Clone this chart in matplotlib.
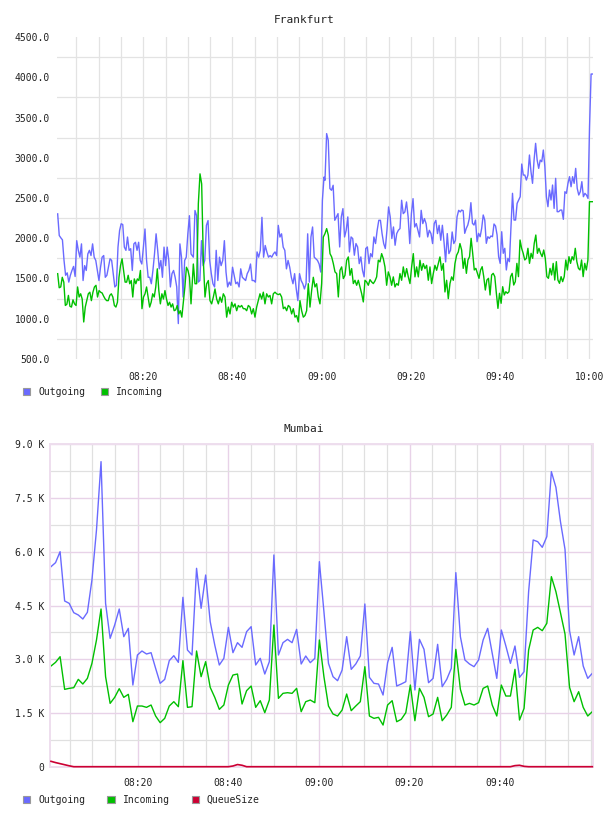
import numpy as np
import matplotlib
matplotlib.use("Agg")
import matplotlib.pyplot as plt
from matplotlib.patches import Patch
from matplotlib.ticker import MultipleLocator, FixedLocator, FuncFormatter

plt.rcParams['font.family'] = ['DejaVu Sans Mono']
plt.rcParams['font.size'] = 7

# ---- Frankfurt (minutes after 08:00, read in 4 chunks) ----
fra_out_spans = [(0.80, 30.70), (31.22, 60.52), (60.74, 91.08), (91.38, 120.75)]
fra_in_spans = [(0.80, 30.70), (31.22, 60.36), (60.74, 91.00), (91.38, 120.75)]

fra_out_a = [2303, 2034, 2005, 1980, 1725, 1540, 1570, 1455, 1540, 1600,
             1650, 1525, 1970, 1850, 1765, 1930, 1475, 1660, 1600, 1805,
             1850, 1785, 1930, 1765, 1725, 1600, 1475, 1640, 1765, 1785,
             1515, 1540, 1640, 1745, 1725, 1560, 1395, 1415, 1890, 2095,
             2180, 2170, 1890, 1850, 2015, 1850, 1870, 1600, 1930, 1950,
             1850, 1950, 1725, 1680, 1890, 2115, 1725, 1515, 1515, 1435,
             1600, 1805, 2055, 1850, 1620, 1725, 1515, 1890, 1660, 1890,
             1725, 1395, 1560, 1600, 1515, 1395, 940, 1930, 1765, 1270,
             1725, 1765, 2055, 2280, 1805]
fra_out_b = [1765, 2345, 2280, 1455, 1475, 1970, 1660, 1725, 2160, 2220,
             1725, 1560, 1435, 1395, 1850, 1475, 1765, 1660, 1725, 1970,
             1580, 1395, 1455, 1415, 1640, 1540, 1435, 1455, 1395, 1620,
             1515, 1495, 1475, 1560, 1600, 1680, 1475, 1475, 1455, 1830,
             1765, 1850, 2260, 1765, 1910, 1830, 1765, 1785, 1765, 1805,
             1830, 1785, 2160, 2015, 2055, 1890, 1850, 1620, 1725, 1640,
             1515, 1435, 1560, 1370, 1225, 1560, 1475, 1435, 1370, 1435,
             2055, 1455, 2015, 2140, 1765, 1745, 1725, 1680, 1580, 2470,
             2760]
fra_out_c = [2720, 3300, 3217, 2617, 2596, 2658, 2223, 2265, 2306, 1892,
             2265, 2368, 2016, 2099, 2265, 1830, 2016, 1996, 1789, 1934,
             1892, 1685, 1768, 1602, 1520, 1872, 1892, 1685, 1809, 1768,
             2016, 1934, 2099, 2223, 2223, 2058, 1934, 1872, 2099, 2389,
             2265, 1996, 2140, 1913, 2058, 2099, 2120, 2472, 2306, 2327,
             2451, 2265, 1934, 2306, 2492, 2140, 2182, 2099, 2016, 2347,
             2182, 2244, 2182, 2016, 2099, 2058, 1934, 2182, 2223, 2058,
             2161, 1975, 2161, 1954, 1706, 2058, 1809, 1851, 2078, 1934,
             1975, 2265, 2347, 2327]
fra_out_d = [2350, 2342, 2061, 2123, 2164, 2247, 2442, 2185, 2164, 2226,
             1957, 2061, 2019, 2123, 2289, 2226, 1937, 2019, 1999, 2028,
             2019, 2177, 2152, 2040, 1771, 1688, 2081, 1813, 1875, 1606,
             1750, 1709, 2123, 2558, 2226, 2226, 2433, 2475, 2516, 2922,
             2785, 2785, 2723, 2785, 3034, 2827, 2682, 2971, 3179, 2971,
             2868, 2971, 2951, 3096, 2889, 2516, 2392, 2599, 2475, 2661,
             2371, 2744, 2330, 2330, 2350, 2350, 2235, 2578, 2558, 2682,
             2765, 2640, 2765, 2682, 2868, 2620, 2537, 2578, 2703, 2516,
             2558, 2537, 2495, 3386, 4040, 4040]

fra_in_a = [1560, 1385, 1395, 1515, 1455, 1165, 1180, 1290, 1155, 1145,
            1235, 1185, 1165, 1395, 1270, 1310, 1245, 960, 1145, 1225,
            1310, 1330, 1225, 1330, 1395, 1415, 1270, 1350, 1330, 1320,
            1280, 1245, 1225, 1225, 1290, 1310, 1270, 1165, 1145, 1205,
            1515, 1660, 1745, 1600, 1455, 1455, 1540, 1435, 1475, 1270,
            1495, 1435, 1495, 1475, 1600, 1125, 1270, 1310, 1395, 1270,
            1145, 1205, 1310, 1270, 1395, 1620, 1350, 1185, 1310, 1245,
            1350, 1245, 1165, 1205, 1145, 1185, 1100, 1110, 1165, 1060,
            1100, 1020, 1205, 1395, 1640, 1600, 1515, 1185]
fra_in_b = [1680, 1435, 1435, 2430, 2800, 2675, 1725, 1270, 1435, 1475,
            1225, 1185, 1270, 1370, 1245, 1185, 1270, 1205, 1310, 1270,
            1020, 1145, 1060, 1205, 1145, 1185, 1100, 1165, 1145, 1165,
            1125, 1125, 1100, 1165, 1145, 1060, 1125, 1020, 1145, 1225,
            1310, 1245, 1330, 1185, 1310, 1270, 1290, 1185, 1310, 1330,
            1310, 1300, 1310, 1270, 1125, 1145, 1100, 1165, 1145, 1060,
            1125, 1020, 1040, 960, 1225, 1100, 1020, 1040, 1100, 1435,
            1145, 1350, 1515, 1395, 1435, 1270, 1185, 1435, 2015]
fra_in_c = [2058, 2120, 2037, 1809, 1768, 1685, 1582, 1561, 1271, 1602,
            1644, 1499, 1540, 1727, 1768, 1540, 1623, 1437, 1478, 1416,
            1478, 1395, 1312, 1209, 1478, 1457, 1416, 1486, 1457, 1437,
            1470, 1520, 1727, 1706, 1809, 1747, 1644, 1416, 1582, 1520,
            1416, 1520, 1395, 1437, 1416, 1561, 1478, 1644, 1520, 1623,
            1520, 1437, 1644, 1809, 1520, 1644, 1520, 1727, 1602, 1685,
            1623, 1664, 1478, 1644, 1437, 1561, 1664, 1602, 1685, 1768,
            1602, 1685, 1333, 1478, 1250, 1437, 1520, 1478, 1685, 1789,
            1830, 1934]
fra_in_d = [1854, 1626, 1750, 1564, 1730, 1771, 1999, 1813, 1606, 1626,
            1564, 1502, 1606, 1647, 1523, 1357, 1481, 1502, 1295, 1544,
            1564, 1523, 1316, 1129, 1316, 1192, 1398, 1295, 1336, 1316,
            1336, 1523, 1564, 1419, 1461, 1688, 1523, 1978, 1875, 1813,
            1730, 1750, 1875, 1688, 1813, 1750, 1937, 2040, 1813, 1875,
            1813, 1771, 1854, 1750, 1523, 1502, 1626, 1544, 1688, 1481,
            1709, 1481, 1440, 1523, 1461, 1523, 1730, 1606, 1771, 1688,
            1771, 1730, 1875, 1709, 1626, 1606, 1730, 1523, 1688, 1606,
            1730, 2454, 2454, 2454]

# ---- Mumbai (one sample per minute) ----
mum_start, mum_end = 0.86, 120.35
mum_out = [5584, 5696, 6003, 4626, 4560, 4300, 4235, 4123, 4310, 5212,
           6608, 8516, 4560, 3583, 3955, 4402, 3630, 3862, 2280, 3118,
           3230, 3146, 3183, 2746, 2327, 2438, 2960, 3099, 2913, 4728,
           3257, 3118, 5538, 4421, 5351, 4049, 3397, 2839, 3025, 3890,
           3183, 3462, 3332, 3769, 3909, 2839, 3025, 2587, 2932, 5910,
           3118, 3462, 3555, 3462, 3834,
           2867, 3090, 2904, 3025, 5724, 4328, 2885, 2513, 2401, 2699,
           3630, 2718, 2867, 3090, 4542, 2494, 2327, 2308, 2001, 2904,
           3332, 2252, 2308, 2373, 3769, 2141, 3555, 3276, 2345, 2466,
           3416, 2234, 2438, 2746, 5417, 3630, 2978, 2867, 2792, 2978,
           3537, 3862, 3164, 2466, 3816, 3369, 2885, 3369, 2494, 2652,
           4886, 6329, 6282, 6124, 6422, 8237, 7799, 6840, 6068, 3797,
           3118, 3630, 2811, 2466, 2606]
mum_in = [2811, 2913, 3071, 2159, 2187, 2206, 2438, 2308, 2466, 2885,
          3537, 4402, 2513, 1768, 1936, 2178, 1936, 2020, 1256, 1694,
          1694, 1657, 1722, 1415, 1229, 1350, 1694, 1815, 1675, 2960,
          1657, 1675, 3230, 2513, 2932, 2215, 1936, 1601, 1722, 2280,
          2559, 2587, 1750, 2122, 2252, 1657, 1843, 1508, 1861, 3955,
          1908, 2048, 2066, 2048, 2187,
          1536, 1815, 1861, 1787, 3537, 2513, 1694, 1471, 1415, 1582,
          2029, 1564, 1694, 1815, 2792, 1415, 1350, 1378, 1163, 1722,
          1843, 1256, 1322, 1508, 2280, 1284, 2187, 1936, 1396, 1471,
          1936, 1284, 1443, 1657, 3276, 2159, 1722, 1768, 1722, 1787,
          2187, 2252, 1722, 1415, 2280, 1973, 1973, 2718, 1303, 1629,
          3257, 3816, 3890, 3797, 4002, 5305, 4886, 4300, 3704, 2215,
          1815, 2094, 1657, 1415, 1536]
mum_queue = [150, 115, 85, 55, 25, 0, 0, 0, 0, 0,
             0, 0, 0, 0, 0, 0, 0, 0, 0, 0,
             0, 0, 0, 0, 0, 0, 0, 0, 0, 0,
             0, 0, 0, 0, 0, 0, 0, 0, 0, 0,
             20, 60, 40, 0, 0, 0, 0, 0, 0, 0,
             0, 0, 0, 0, 0, 0, 0, 0, 0, 0,
             0, 0, 0, 0, 0, 0, 0, 0, 0, 0,
             0, 0, 0, 0, 0, 0, 0, 0, 0, 0,
             0, 0, 0, 0, 0, 0, 0, 0, 0, 0,
             0, 0, 0, 0, 0, 0, 0, 0, 0, 0,
             0, 0, 30, 40, 10, 0, 0, 0, 0, 0,
             0, 0, 0, 0, 0, 0, 0, 0, 0, 0]

BLUE = '#6a6aff'
GREEN = '#00c000'
RED = '#cc0033'
GRAY = '#e3e3e3'
PINK = '#e8d2e8'
TXT = '#222222'


def join(spans, chunks):
    t = np.concatenate([np.linspace(a, b, len(v)) for (a, b), v in zip(spans, chunks)])
    return t, np.concatenate(chunks)


def hhmm(m, pos=None):
    m = int(round(m))
    return f"{8 + m // 60:02d}:{m % 60:02d}"


fig = plt.figure(figsize=(6.08, 8.16), dpi=100)

# ---------------- Frankfurt ----------------
ax1 = fig.add_axes([57 / 608, 1 - 359 / 816, 536.3 / 608, 322 / 816])
t, v = join(fra_out_spans, [fra_out_a, fra_out_b, fra_out_c, fra_out_d])
ax1.plot(t, v, color=BLUE, lw=1.0)
t, v = join(fra_in_spans, [fra_in_a, fra_in_b, fra_in_c, fra_in_d])
ax1.plot(t, v, color=GREEN, lw=1.0)
ax1.set_xlim(0.65, 120.9)
ax1.set_ylim(500, 4500)
ax1.xaxis.set_major_locator(MultipleLocator(20))
ax1.xaxis.set_minor_locator(MultipleLocator(5))
ax1.xaxis.set_major_formatter(FuncFormatter(hhmm))
ax1.yaxis.set_major_locator(MultipleLocator(500))
ax1.yaxis.set_minor_locator(MultipleLocator(500, offset=250))
ax1.yaxis.set_major_formatter(FuncFormatter(lambda y, p: f"{y:.1f}"))
ax1.grid(which='both', axis='x', color=GRAY, lw=0.9)
ax1.grid(which='minor', axis='y', color=GRAY, lw=0.9)
ax1.set_axisbelow(True)
for s in ax1.spines.values():
    s.set_visible(False)
ax1.tick_params(which='both', length=0, colors=TXT, labelsize=7)
ax1.tick_params(axis='x', pad=9)
ax1.tick_params(axis='y', pad=5)
fig.text(0.5, 1 - 20 / 816, 'Frankfurt', ha='center', va='center', fontsize=8, color=TXT)

h = [Patch(facecolor=BLUE, edgecolor='#999999', lw=0.8, label='Outgoing'),
     Patch(facecolor=GREEN, edgecolor='#999999', lw=0.8, label='Incoming')]
fig.legend(handles=h, loc='center left', bbox_to_anchor=(23 / 608, 1 - 392 / 816),
           ncol=2, frameon=False, handlelength=0.75, handleheight=0.75,
           handletextpad=0.8, columnspacing=1.6, borderpad=0, borderaxespad=0,
           fontsize=7, labelcolor=TXT)

# ---------------- Mumbai ----------------
ax2 = fig.add_axes([50 / 608, 1 - 766.7 / 816, 543.3 / 608, 322.4 / 816])
tm = np.linspace(mum_start, mum_end, len(mum_out))
ax2.plot(tm, mum_out, color=BLUE, lw=1.0)
ax2.plot(tm, mum_in, color=GREEN, lw=1.0)
ax2.plot(tm, mum_queue, color=RED, lw=1.2, clip_on=False, zorder=5)
ax2.set_xlim(0.64, 120.57)
ax2.set_ylim(0, 9000)
ax2.xaxis.set_major_locator(FixedLocator([20, 40, 60, 80, 100]))
ax2.xaxis.set_minor_locator(MultipleLocator(5))
ax2.xaxis.set_major_formatter(FuncFormatter(hhmm))
ax2.yaxis.set_major_locator(MultipleLocator(1500))
ax2.yaxis.set_minor_locator(MultipleLocator(750))
ax2.yaxis.set_major_formatter(FuncFormatter(lambda y, p: "0" if y == 0 else f"{y / 1000:.1f} K"))
ax2.grid(which='minor', color='#e0e0e0', lw=0.9)
ax2.grid(which='major', color=PINK, lw=1.0)
ax2.set_axisbelow(True)
for s in ax2.spines.values():
    s.set_color('#eedeee')
    s.set_linewidth(1.4)
ax2.tick_params(which='both', length=0, colors=TXT, labelsize=7)
ax2.tick_params(axis='x', pad=8)
ax2.tick_params(axis='y', pad=4)
fig.text(0.5, 1 - 429 / 816, 'Mumbai', ha='center', va='center', fontsize=8, color=TXT)

h = [Patch(facecolor=BLUE, edgecolor='#999999', lw=0.8, label='Outgoing'),
     Patch(facecolor=GREEN, edgecolor='#999999', lw=0.8, label='Incoming'),
     Patch(facecolor=RED, edgecolor='#999999', lw=0.8, label='QueueSize')]
fig.legend(handles=h, loc='center left', bbox_to_anchor=(23 / 608, 1 - 800 / 816),
           ncol=3, frameon=False, handlelength=0.75, handleheight=0.75,
           handletextpad=0.8, columnspacing=2.3, borderpad=0, borderaxespad=0,
           fontsize=7, labelcolor=TXT)

fig.savefig('out.png', dpi=100, facecolor='white')
